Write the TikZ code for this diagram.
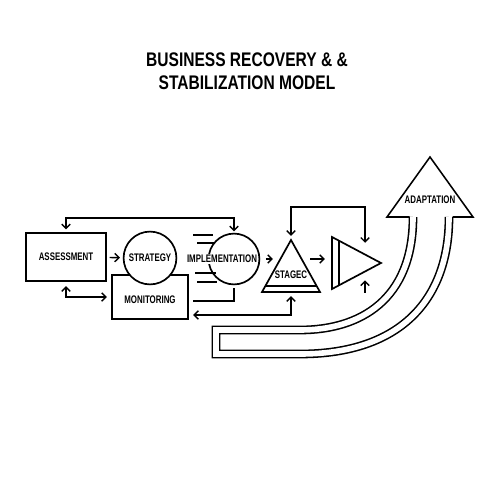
\documentclass[tikz,border=0pt]{standalone}
\usepackage{fontspec}
\setmainfont{Liberation Sans}[FakeStretch=0.72]
\newfontfamily\headfont{Liberation Sans}[FakeStretch=0.79]
\usetikzlibrary{arrows.meta}
\tikzset{>={Straight Barb[length=3pt,width=6pt]}}
\tikzset{
	box/.style={draw, line width=1.2pt, fill=white, inner sep=0pt},
	ring/.style={draw, circle, line width=1.2pt, fill=white, inner sep=0pt},
	lbl/.style={font=\bfseries\fontsize{7.8}{8}\selectfont, inner sep=0pt},
	headline/.style={font=\headfont\bfseries\fontsize{14}{15}\selectfont, inner sep=0pt},
	link/.style={line width=1pt}
}

\begin{document}
\begin{tikzpicture}[x=0.025cm, y=-0.025cm]
			\useasboundingbox (0,0) rectangle (500,500);

			% Title
			\node[headline] (title) at (247,60) {BUSINESS RECOVERY \& \&};
			\node[headline] (subtitle) at (247,83) {STABILIZATION MODEL};

			% Left blocks
			\node[box, minimum width=2cm, minimum height=1.2cm, font=\bfseries\fontsize{7.8}{8}\selectfont] (assess) at (66,257) {ASSESSMENT};
			\node[box, minimum width=1.9cm, minimum height=1.1cm] (monitor) at (150,297) {};
			\node[lbl] (monitor-txt) at (150,300) {MONITORING};
			\node[ring, minimum size=1.32cm, font=\bfseries\fontsize{7.8}{8}\selectfont] (strategy) at (150,258) {STRATEGY};

			% Implementation
			\node[ring, minimum size=1.27cm, fill=none] (implement) at (234,259) {};
			\draw[link] (193,235) -- (213,235);
			\draw[link] (197,243) -- (215,243);
			\draw[link] (195,273) -- (216,273);
			\draw[link] (197,282) -- (217,282);
			\node[lbl, fill=white, inner sep=1pt] (implement-txt) at (222,259) {IMPLEMENTATION};

			% Stage triangle
			\coordinate (stage-apex) at (291,240);
			\coordinate (stage-left) at (262,292);
			\coordinate (stage-right) at (320,292);
			\coordinate (stage-bottom) at (291,292);
			\coordinate (stage-west) at (280,259);
			\draw[line width=1.2pt] (stage-apex) -- (stage-right) -- (stage-left) -- cycle;
			\draw[line width=1.2pt] (265.5,286) -- (316.5,286);
			\node[lbl] (stage-txt) at (291,275) {STAGEC};

			% Play triangle
			\coordinate (play-a) at (332,237);
			\coordinate (play-b) at (332,289);
			\coordinate (play-tip) at (381,263);
			\coordinate (play-west) at (332,259);
			\coordinate (play-top) at (365,254);
			\coordinate (play-bot) at (365,272);
			\draw[line width=1.2pt] (play-a) -- (play-tip) -- (play-b) -- cycle;
			\draw[line width=1.2pt] (339,241) -- (339,285);

			% Connectors
			\draw[link,->,shorten <=2pt,shorten >=2pt] (assess) -- (strategy);
			\draw[link,<->,shorten <=2pt,shorten >=1pt] (assess.north) -- ++(0,-14) -| (implement.north);
			\draw[link,<->,shorten <=3pt,shorten >=3pt] (assess.south) |- (monitor.west);
			\coordinate (impl-end) at (193,301);
			\draw[link] ([yshift=-2pt]implement.south) |- (impl-end);
			\draw[link,<->,shorten <=3pt,shorten >=3pt] (stage-bottom) |- (monitor.east |- 0,315);
			\draw[link,->,shorten <=4pt,shorten >=5pt] (implement.east) -- (stage-west);
			\coordinate (stage-east) at (303,259);
			\draw[link,->,shorten <=5pt,shorten >=5pt] (stage-east) -- (play-west);
			\draw[link,<->,shorten <=3pt,shorten >=8pt] (stage-apex) -- ++(0,-33) -| (play-top);
			\draw[link,<-,shorten <=6pt] (play-bot) -- ++(0,21);

			% Adaptation arrow
			\draw[line width=1.1pt] (409.5,217) -- (387,217) -- (430,157) -- (473,217) -- (452.5,217);
			\draw[line width=1.1pt, double, double distance=4pt] (413,217) .. controls (413,300) and (360,330) .. (300,330) -- (216,330) -- (216,354) -- (300,354) .. controls (400,354) and (449,300) .. (449,217);
			\node[lbl] (adapt) at (430,200) {ADAPTATION};
		\end{tikzpicture}
\end{document}
